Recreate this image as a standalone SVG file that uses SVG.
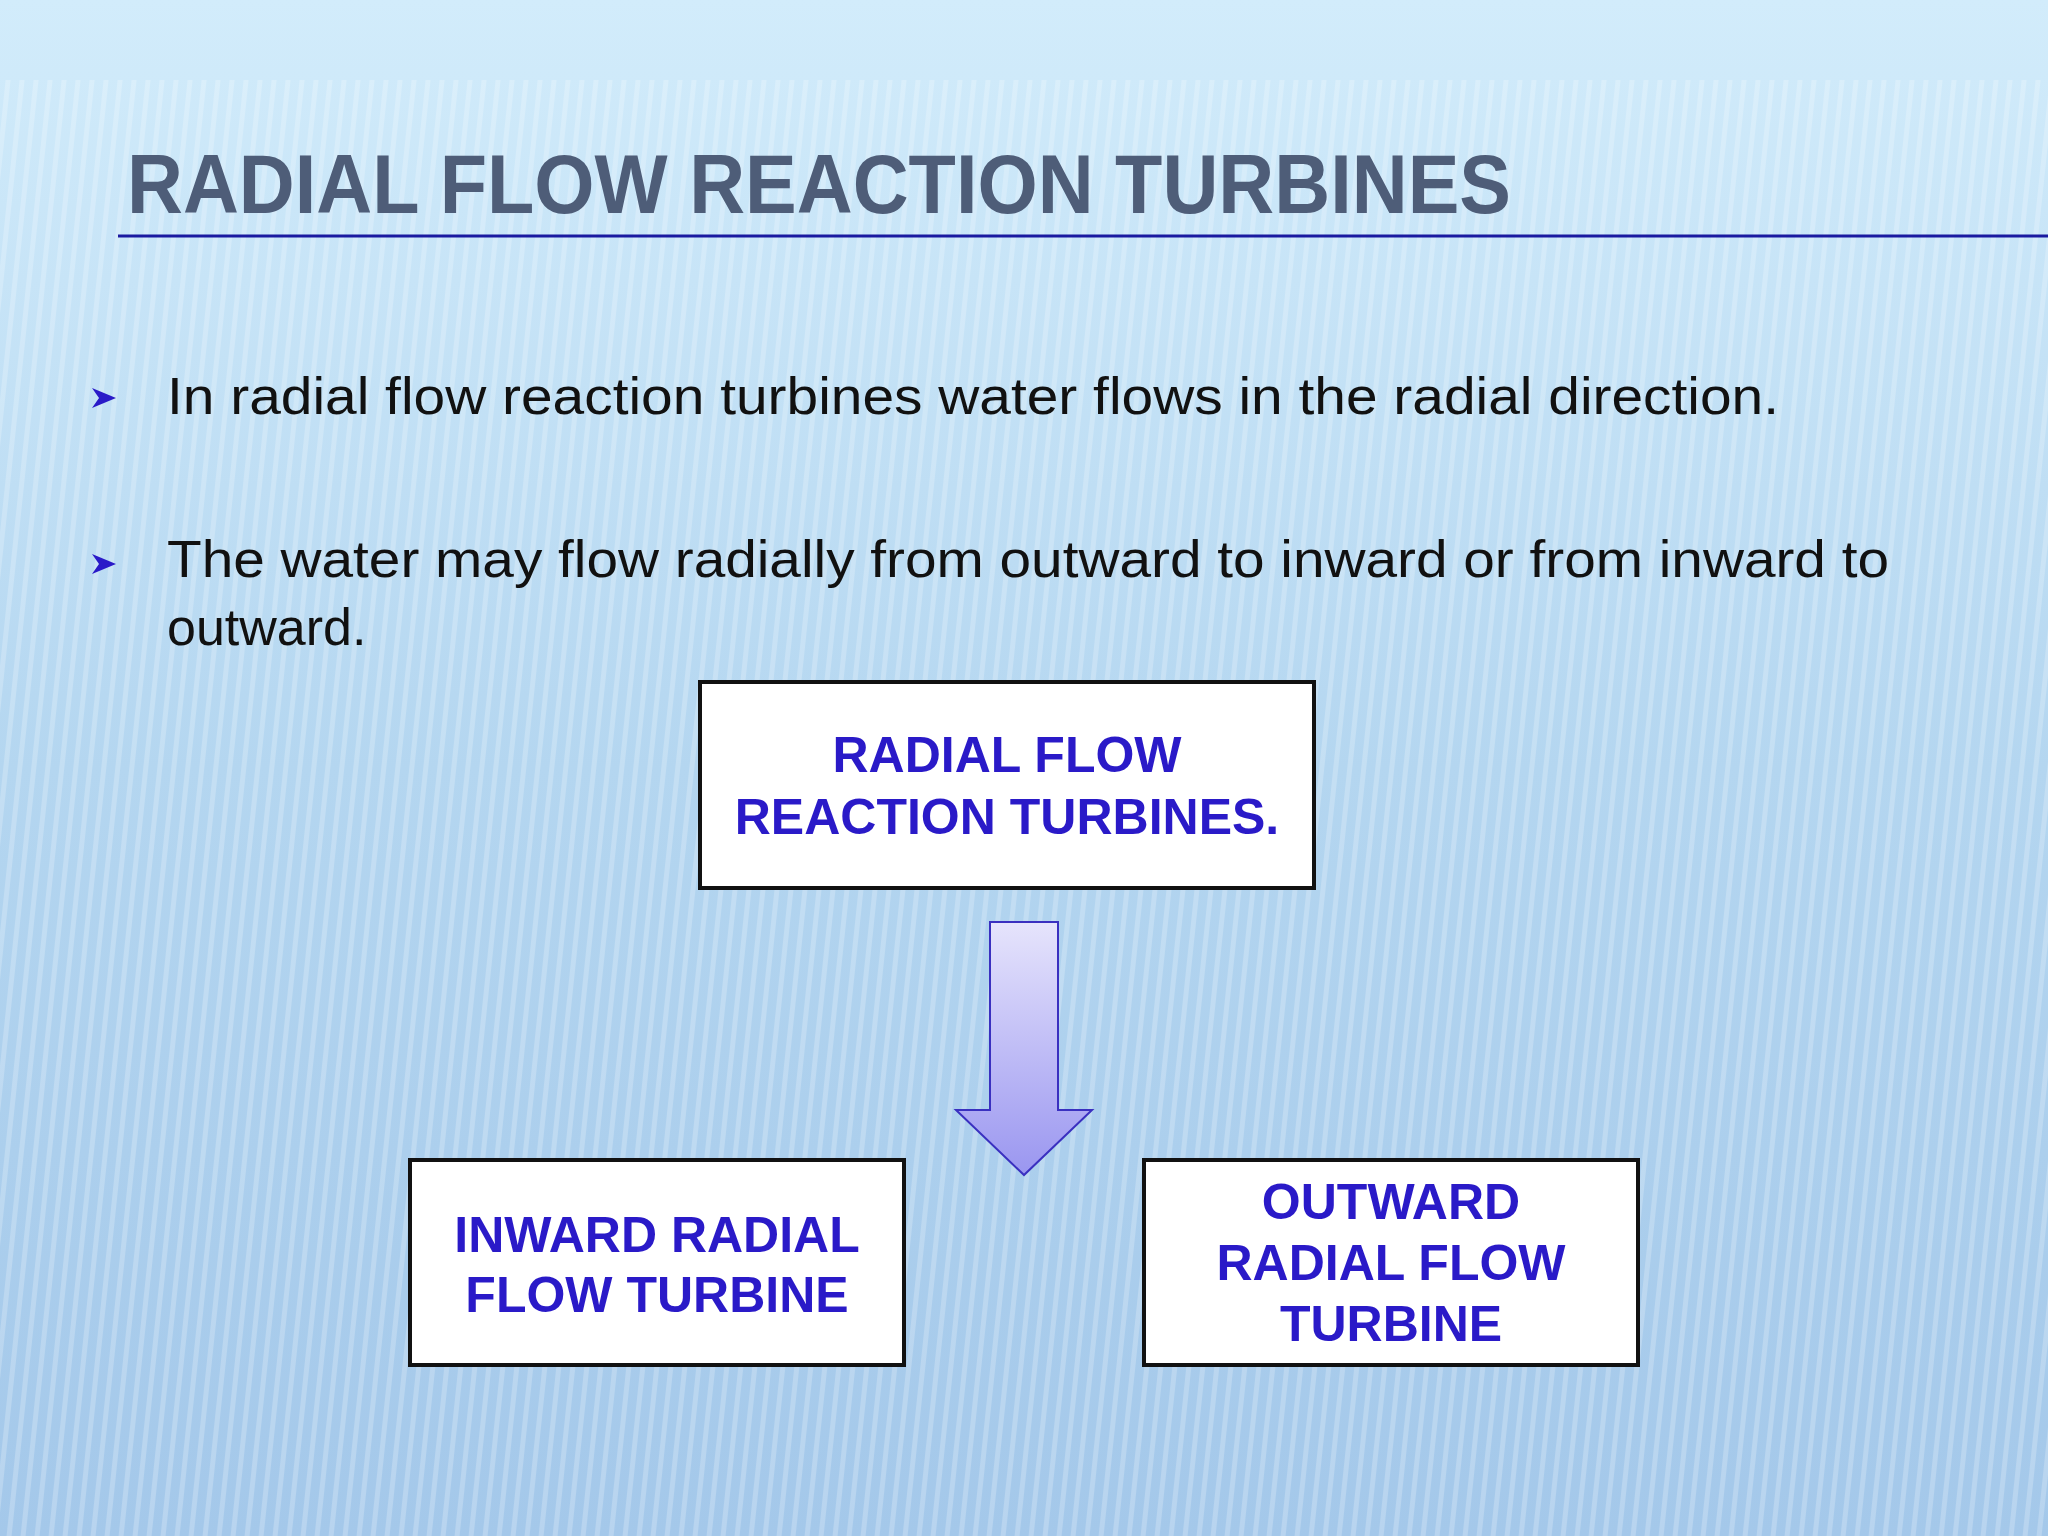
<svg xmlns="http://www.w3.org/2000/svg" width="2048" height="1536" viewBox="0 0 2048 1536">
<defs>
<linearGradient id="bg" x1="0" y1="0" x2="0" y2="1">
<stop offset="0" stop-color="#d2ecfb"/><stop offset="0.5" stop-color="#b4d6f0"/><stop offset="1" stop-color="#a4c8ea"/>
</linearGradient>
<pattern id="stripes" width="14" height="40" patternUnits="userSpaceOnUse" patternTransform="skewX(-6)">
<rect x="0" y="0" width="5" height="40" fill="#ffffff" opacity="0.22"/>
</pattern>
<linearGradient id="arr" x1="0" y1="0" x2="0" y2="1">
<stop offset="0" stop-color="#e6e4fc"/><stop offset="1" stop-color="#9a96f0"/>
</linearGradient>
<style>
.box{fill:#fff;stroke:#111;stroke-width:4}
.lbl{font-family:"Liberation Sans",Arial,sans-serif;font-weight:bold;font-size:50px;fill:#2a1ac8;text-anchor:middle}
.body{font-family:"Liberation Sans",Arial,sans-serif;font-size:52px;fill:#111}
</style>
</defs>
<rect width="2048" height="1536" fill="url(#bg)"/>
<rect y="80" width="2048" height="1456" fill="url(#stripes)"/>
<text x="127" y="213" font-family="Liberation Sans,Arial,sans-serif" font-weight="bold" font-size="84" fill="#4e5d78" textLength="1384" lengthAdjust="spacingAndGlyphs">RADIAL FLOW REACTION TURBINES</text>
<line x1="118" y1="236" x2="2048" y2="236" stroke="#1a1aa0" stroke-width="3"/>
<g fill="#2a1ac8"><polygon points="92,388 116,398 92,408 99,398"/><polygon points="92,554 116,564 92,574 99,564"/></g>
<text class="body" x="167" y="414" textLength="1612" lengthAdjust="spacingAndGlyphs">In radial flow reaction turbines water flows in the radial direction.</text>
<text class="body" x="167" y="577" textLength="1722" lengthAdjust="spacingAndGlyphs">The water may flow radially from outward to inward or from inward to</text>
<text class="body" x="167" y="645">outward.</text>
<g id="n1"><rect class="box" x="700" y="682" width="614" height="206"/><text class="lbl" x="1007" y="772">RADIAL FLOW</text><text class="lbl" x="1007" y="834">REACTION TURBINES.</text></g>
<g id="connectors"><polygon points="990,922 1058,922 1058,1110 1092,1110 1024,1175 956,1110 990,1110" fill="url(#arr)" stroke="#3a30c0" stroke-width="2"/></g>
<g id="n2"><rect class="box" x="410" y="1160" width="494" height="205"/><text class="lbl" x="657" y="1252">INWARD RADIAL</text><text class="lbl" x="657" y="1312">FLOW TURBINE</text></g>
<g id="n3"><rect class="box" x="1144" y="1160" width="494" height="205"/><text class="lbl" x="1391" y="1219">OUTWARD</text><text class="lbl" x="1391" y="1280">RADIAL FLOW</text><text class="lbl" x="1391" y="1341">TURBINE</text></g>
</svg>
